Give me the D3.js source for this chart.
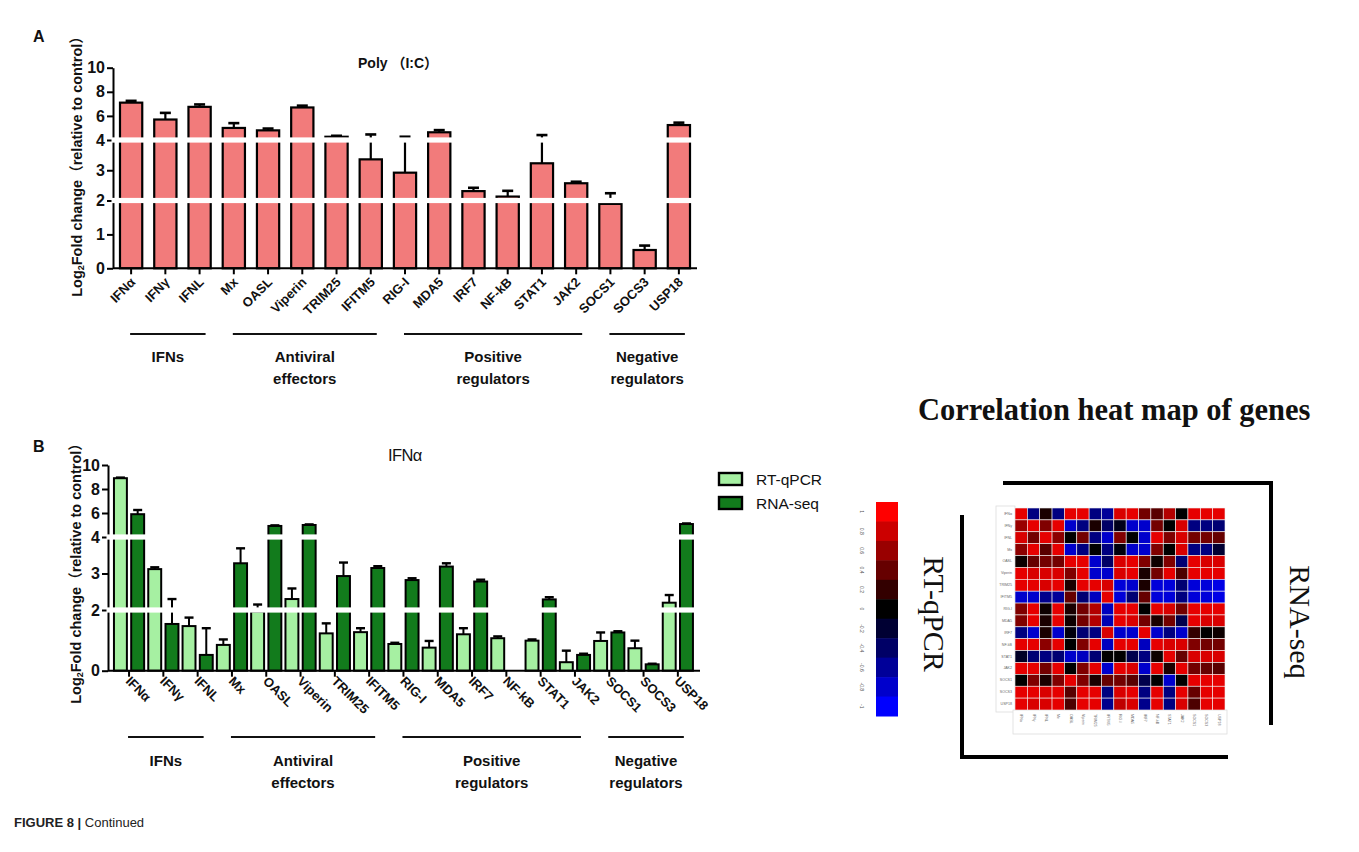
<!DOCTYPE html>
<html>
<head>
<meta charset="utf-8">
<script src="https://cdn.jsdelivr.net/npm/d3@7"></script>
<style>
  body { margin: 0; background: #fff; }
  svg { display: block; }
</style>
</head>
<body>
<svg id="fig" width="1359" height="852"></svg>
<script>
// ---- data ----
const genes = ["IFNα", "IFNγ", "IFNL", "Mx", "OASL", "Viperin", "TRIM25", "IFITM5",
  "RIG-I", "MDA5", "IRF7", "NF-kB", "STAT1", "JAK2", "SOCS1", "SOCS3", "USP18"];

const groupNames = [["IFNs"], ["Antiviral", "effectors"], ["Positive", "regulators"], ["Negative", "regulators"]];
const groupFirst = ["IFNα", "Mx", "RIG-I", "SOCS1"];
const groupLast = ["IFNL", "IFITM5", "JAK2", "USP18"];

// Panel A: Poly (I:C), log2 fold change and SEM
const polyIC = [7.1, 5.7, 6.75, 5.0, 4.8, 6.7, 4.27, 3.36, 2.92, 4.64, 2.31, 2.13, 3.23, 2.57, 1.9, 0.54, 5.24];
const polyICErr = [0.15, 0.55, 0.2, 0.4, 0.15, 0.15, 0.08, 1.1, 1.35, 0.18, 0.11, 0.19, 1.18, 0.05, 0.34, 0.13, 0.2];

// Panel B: IFNα, RT-qPCR vs RNA-seq
const rtqpcr = [8.9, 3.12, 1.47, 0.85, 1.95, 2.3, 1.23, 1.27, 0.88, 0.76, 1.2, 1.07, 0.99, 0.28, 0.98, 0.74, 2.2];
const rtqpcrErr = [0.05, 0.05, 0.28, 0.18, 0.2, 0.29, 0.33, 0.13, 0.04, 0.22, 0.2, 0.06, 0.04, 0.38, 0.28, 0.25, 0.21];
const rnaseq = [5.9, 1.54, 0.52, 3.28, 4.92, 5.0, 2.93, 3.15, 2.82, 3.19, 2.78, 0, 2.29, 0.52, 1.26, 0.21, 5.08];
const rnaseqErr = [0.35, 0.76, 0.88, 0.41, 0.05, 0.05, 0.37, 0.05, 0.05, 0.09, 0.05, 0, 0.06, 0.04, 0.04, 0.02, 0.05];

const seriesNames = ["RT-qPCR", "RNA-seq"];
const yTicksA = [0, 1, 2, 3, 4, 6, 8, 10];
const yTicksB = [0, 2, 3, 4, 6, 8, 10];
const yBreaks = [2, 4];

// Correlation matrix (rows: RT-qPCR genes, columns: RNA-seq genes)
const corrGenes = ["IFNα", "IFNγ", "IFNL", "Mx", "OASL", "Viperin", "TRIM25", "IFITM5",
  "RIG-I", "MDA5", "IRF7", "NF-kB", "STAT1", "JAK2", "SOCS1", "SOCS3", "USP18"];
const corrMatrix = [
  [0.9, -0.5, 0.1, -0.5, 0.9, 0.9, -0.5, -0.6, 0.85, 0.9, 0.45, 0.35, 0.7, 0.0, 0.9, 0.9, 0.9],
  [0.6, 0.9, 0.5, 0.9, -0.8, -0.5, 0.1, -0.4, -0.1, -0.8, -0.8, 0.45, 0.0, 0.85, -0.5, -0.5, -0.45],
  [0.85, 0.45, 0.9, 0.55, 0.0, 0.45, -0.5, -0.8, 0.5, 0.0, -0.8, 0.9, 0.5, 0.85, 0.45, 0.45, 0.4],
  [0.55, 0.9, 0.35, 0.9, -0.8, -0.5, 0.0, -0.5, -0.05, -0.8, -0.8, 0.5, 0.0, 0.85, -0.5, -0.5, -0.2],
  [0.05, 0.4, 0.45, 0.45, 0.9, 0.9, -0.8, -0.4, 0.85, 0.9, 0.5, 0.05, 0.5, -0.45, 0.9, 0.85, 0.85],
  [0.9, 0.85, 0.85, 0.85, 0.5, 0.9, -0.8, -0.8, 0.85, 0.9, 0.1, 0.45, 0.9, 0.3, 0.9, 0.9, 0.9],
  [0.9, 0.9, 0.85, 0.9, 0.1, 0.9, 0.9, 0.85, -0.85, -0.8, 0.1, -0.85, -0.85, -0.45, -0.85, -0.85, -0.9],
  [-0.8, -0.8, -0.55, -0.6, 0.4, -0.45, -0.75, 0.9, -0.85, -0.45, 0.4, -0.85, -0.85, -0.5, -0.85, -0.85, -0.9],
  [0.5, 0.9, 0.05, 0.9, 0.1, 0.45, 0.7, -0.75, 0.9, 0.9, 0.0, 0.9, 0.85, 0.45, 0.9, 0.9, 0.9],
  [0.5, 0.9, 0.1, 0.9, 0.05, 0.45, 0.7, -0.7, 0.9, 0.85, 0.45, 0.1, 0.45, -0.3, 0.9, 0.85, 0.85],
  [-0.5, -0.8, 0.1, -0.8, -0.05, -0.45, -0.5, 0.85, -0.8, -0.8, 0.9, -0.8, -0.5, -0.8, 0.2, 0.0, 0.05],
  [0.9, 0.9, 0.55, 0.9, 0.0, 0.5, 0.9, -0.75, 0.9, 0.9, -0.75, 0.9, 0.85, 0.85, 0.5, 0.45, 0.45],
  [-0.15, -0.45, -0.5, -0.45, -0.8, -0.75, -0.45, 0.0, 0.0, -0.3, -0.5, 0.05, 0.9, 0.4, 0.85, 0.85, 0.85],
  [0.9, 0.9, 0.45, 0.9, 0.0, 0.5, 0.9, -0.8, 0.9, 0.85, -0.8, 0.9, 0.1, 0.9, 0.45, 0.4, 0.35],
  [0.0, 0.5, 0.1, 0.5, 0.9, 0.5, 0.1, 0.4, 0.45, 0.35, -0.3, 0.0, -0.8, 0.0, 0.9, 0.9, 0.9],
  [0.9, 0.9, 0.85, 0.9, 0.35, 0.9, 0.9, -0.5, 0.85, 0.9, -0.5, 0.9, -0.5, 0.9, 0.4, 0.9, 0.9],
  [0.9, 0.85, 0.85, 0.9, 0.3, 0.9, 0.9, -0.55, 0.75, 0.85, -0.55, 0.9, -0.5, 0.85, 0.3, 0.9, 0.9]
];
const colorbarTicks = [1, 0.8, 0.6, 0.4, 0.2, 0, -0.2, -0.4, -0.6, -0.8, -1];

// ---- drawing ----
const SANS = "Arial, 'Liberation Sans', 'Noto Sans CJK SC', sans-serif";
const SERIF = "'Times New Roman', 'Liberation Serif', serif";
const svg = d3.select("#fig");

function yAxisTitle(g, cx, cy) {
  const t = g.append("text")
    .attr("transform", `translate(${cx},${cy}) rotate(-90)`)
    .attr("text-anchor", "middle").attr("dominant-baseline", "central")
    .attr("font-family", SANS).attr("font-weight", "bold").attr("font-size", 14.5).attr("fill", "#111");
  t.append("tspan").text("Log");
  t.append("tspan").attr("font-size", 9).attr("dy", 3.5).text("2");
  t.append("tspan").attr("dy", -3.5).text("Fold change（relative to control）");
}

function drawLeftAxis(g, y, ticks, axisX) {
  const ax = g.append("g").attr("transform", `translate(${axisX},0)`)
    .call(d3.axisLeft(y).tickValues(ticks).tickSize(6).tickSizeOuter(0).tickPadding(2));
  ax.attr("font-size", null);
  ax.select(".domain").attr("stroke", "#000").attr("stroke-width", 2);
  ax.selectAll(".tick line").attr("stroke", "#000").attr("stroke-width", 2);
  ax.selectAll(".tick text").attr("font-family", SANS).attr("font-weight", "bold")
    .style("font-size", "16px").attr("fill", "#111");
  return ax;
}

function drawBreakBands(g, y, x0, x1) {
  g.selectAll(null).data(yBreaks).join("rect")
    .attr("x", x0).attr("width", x1 - x0)
    .attr("y", d => y(d) - 2.6).attr("height", 5.2)
    .attr("fill", "#fff");
}

function drawBottomAxis(g, x, yBase, axisX, xEnd) {
  g.append("line").attr("x1", axisX).attr("x2", xEnd).attr("y1", yBase).attr("y2", yBase)
    .attr("stroke", "#000").attr("stroke-width", 2);
  g.selectAll(null).data(x.domain()).join("line")
    .attr("x1", d => x(d) + x.bandwidth() / 2).attr("x2", d => x(d) + x.bandwidth() / 2)
    .attr("y1", yBase).attr("y2", yBase + 6)
    .attr("stroke", "#000").attr("stroke-width", 2);
}

function drawGroups(g, x, lineY, textY) {
  const cx = d => x(d) + x.bandwidth() / 2;
  groupNames.forEach((lines, i) => {
    const a = cx(groupFirst[i]) - 1, b = cx(groupLast[i]) + 6;
    g.append("line").attr("x1", a).attr("x2", b).attr("y1", lineY).attr("y2", lineY)
      .attr("stroke", "#111").attr("stroke-width", 2.2);
    const t = g.append("text").attr("x", (a + b) / 2).attr("y", textY)
      .attr("text-anchor", "middle").attr("font-family", SANS).attr("font-weight", "bold")
      .attr("font-size", 15).attr("fill", "#111");
    lines.forEach((s, k) => t.append("tspan").attr("x", (a + b) / 2).attr("dy", k ? 21.5 : 0).text(s));
  });
}

// ---------- Panel A ----------
(function panelA() {
  const g = svg.append("g");
  const axisX = 113, xEnd = 697;
  const x = d3.scaleBand().domain(genes).range([114, 696]).paddingInner(0.35).paddingOuter(0.175);
  const y = d3.scaleLinear().domain([0, 2, 4, 10]).range([268.3, 200.5, 140, 67.7]);

  g.append("text").attr("x", 33).attr("y", 42).attr("font-family", SANS).attr("font-weight", "bold")
    .attr("font-size", 16).attr("fill", "#111").text("A");
  g.append("text").attr("x", 358).attr("y", 68).attr("font-family", SANS).attr("font-weight", "bold")
    .attr("font-size", 14).attr("fill", "#111").text("Poly （I:C）");
  yAxisTitle(g, 77, 163);

  const data = genes.map((k, i) => ({ k, v: polyIC[i], e: polyICErr[i] }));
  g.selectAll(null).data(data).join("rect")
    .attr("x", d => x(d.k)).attr("width", x.bandwidth())
    .attr("y", d => y(d.v)).attr("height", d => y(0) - y(d.v))
    .attr("fill", "#f27b7b").attr("stroke", "#000").attr("stroke-width", 2.2);
  const eb = g.selectAll(null).data(data).join("g")
    .attr("transform", d => `translate(${x(d.k) + x.bandwidth() / 2},0)`);
  eb.append("line").attr("y1", d => y(d.v)).attr("y2", d => y(d.v + d.e))
    .attr("stroke", "#000").attr("stroke-width", 2.2);
  eb.append("line").attr("x1", -5.5).attr("x2", 5.5).attr("y1", d => y(d.v + d.e)).attr("y2", d => y(d.v + d.e))
    .attr("stroke", "#000").attr("stroke-width", 2.6);

  drawLeftAxis(g, y, yTicksA, axisX);
  drawBreakBands(g, y, axisX - 1.5, xEnd + 2);
  drawBottomAxis(g, x, y(0), axisX, xEnd);

  g.selectAll(null).data(genes).join("text")
    .attr("transform", d => `translate(${x(d) + x.bandwidth() / 2 + 5},${283}) rotate(-45)`)
    .attr("text-anchor", "end").attr("font-family", SANS).attr("font-weight", "bold")
    .attr("font-size", 13).attr("fill", "#111").text(d => d);

  drawGroups(g, x, 334, 362);
})();

// ---------- Panel B ----------
(function panelB() {
  const g = svg.append("g");
  const axisX = 108, xEnd = 700;
  const x = d3.scaleBand().domain(genes).range([111.9, 695]).paddingInner(0.12).paddingOuter(0.06);
  const x1 = d3.scaleBand().domain(seriesNames).range([0, x.bandwidth()]).paddingInner(0.25);
  const y = d3.scaleLinear().domain([0, 2, 4, 10]).range([670.7, 610, 537, 465]);
  const fills = d3.scaleOrdinal().domain(seriesNames).range(["#a6f0a2", "#127b1c"]);

  g.append("text").attr("x", 33).attr("y", 452).attr("font-family", SANS).attr("font-weight", "bold")
    .attr("font-size", 16).attr("fill", "#111").text("B");
  g.append("text").attr("x", 388).attr("y", 461).attr("font-family", SANS)
    .attr("font-size", 16.5).attr("letter-spacing", -0.6).attr("fill", "#111").text("IFNα");
  yAxisTitle(g, 76, 570);

  const data = [];
  genes.forEach((k, i) => {
    data.push({ k, s: seriesNames[0], v: rtqpcr[i], e: rtqpcrErr[i] });
    data.push({ k, s: seriesNames[1], v: rnaseq[i], e: rnaseqErr[i] });
  });
  g.selectAll(null).data(data).join("rect")
    .attr("x", d => x(d.k) + x1(d.s)).attr("width", x1.bandwidth())
    .attr("y", d => y(d.v)).attr("height", d => y(0) - y(d.v))
    .attr("fill", d => fills(d.s)).attr("stroke", "#000").attr("stroke-width", 2);
  const eb = g.selectAll(null).data(data.filter(d => d.e > 0)).join("g")
    .attr("transform", d => `translate(${x(d.k) + x1(d.s) + x1.bandwidth() / 2},0)`);
  eb.append("line").attr("y1", d => y(d.v)).attr("y2", d => y(d.v + d.e))
    .attr("stroke", "#000").attr("stroke-width", 2);
  eb.append("line").attr("x1", -4.5).attr("x2", 4.5).attr("y1", d => y(d.v + d.e)).attr("y2", d => y(d.v + d.e))
    .attr("stroke", "#000").attr("stroke-width", 2.4);

  drawLeftAxis(g, y, yTicksB, axisX);
  drawBreakBands(g, y, axisX - 1.5, xEnd + 2);
  drawBottomAxis(g, x, y(0), axisX, xEnd);

  g.selectAll(null).data(genes).join("text")
    .attr("transform", d => `translate(${x(d) + x.bandwidth() / 2 - 4},${682}) rotate(45)`)
    .attr("text-anchor", "start").attr("font-family", SANS).attr("font-weight", "bold")
    .attr("font-size", 13).attr("fill", "#111").text(d => d);

  drawGroups(g, x, 737, 766);

  // legend
  const lg = g.append("g").attr("transform", "translate(719,473)");
  seriesNames.forEach((s, i) => {
    lg.append("rect").attr("x", 0).attr("y", i * 24).attr("width", 23).attr("height", 12)
      .attr("fill", fills(s)).attr("stroke", "#000").attr("stroke-width", 2.4);
    lg.append("text").attr("x", 37).attr("y", i * 24 + 6).attr("dominant-baseline", "central")
      .attr("font-family", SANS).attr("font-size", 15.5).attr("fill", "#111").text(s);
  });
})();

// ---------- Correlation heat map ----------
(function heatmap() {
  const g = svg.append("g");
  const color = d3.scaleLinear().domain([-1, 0, 1]).range(["#0000ff", "#000000", "#ff0000"]);

  g.append("text").attr("x", 918).attr("y", 420).attr("font-family", SERIF).attr("font-weight", "bold")
    .attr("font-size", 30.5).attr("fill", "#111").text("Correlation heat map of genes");

  // colour bar
  const cb = d3.scaleBand().domain(colorbarTicks).range([502, 716]);
  g.selectAll(null).data(colorbarTicks).join("rect")
    .attr("x", 876).attr("width", 22).attr("y", d => cb(d)).attr("height", cb.bandwidth() + 0.5)
    .attr("fill", d => color(d));
  g.selectAll(null).data(colorbarTicks).join("text")
    .attr("transform", d => `translate(862,${cb(d) + cb.bandwidth() / 2}) rotate(90)`)
    .attr("text-anchor", "middle").attr("dominant-baseline", "central")
    .attr("font-family", SANS).attr("font-size", 5).attr("fill", "#555").text(d => d);

  g.append("text").attr("transform", "translate(934,614) rotate(90)")
    .attr("text-anchor", "middle").attr("dominant-baseline", "central")
    .attr("font-family", SERIF).attr("font-size", 30).attr("fill", "#111").text("RT-qPCR");
  g.append("text").attr("transform", "translate(1300,622) rotate(90)")
    .attr("text-anchor", "middle").attr("dominant-baseline", "central")
    .attr("font-family", SERIF).attr("font-size", 30).attr("fill", "#111").text("RNA-seq");

  // brackets
  g.append("path").attr("d", "M962,515V757H1228").attr("fill", "none").attr("stroke", "#000").attr("stroke-width", 4);
  g.append("path").attr("d", "M1003,483H1271V725").attr("fill", "none").attr("stroke", "#000").attr("stroke-width", 4);

  const xs = d3.scaleBand().domain(corrGenes).range([1015, 1225]);
  const ys = d3.scaleBand().domain(corrGenes).range([508, 710]);

  // label frames
  g.append("rect").attr("x", 996).attr("y", 506).attr("width", 19).attr("height", 206)
    .attr("fill", "#fff").attr("stroke", "#ddd").attr("stroke-width", 0.8);
  g.append("rect").attr("x", 1013).attr("y", 710).attr("width", 214).attr("height", 24)
    .attr("fill", "#fff").attr("stroke", "#ddd").attr("stroke-width", 0.8);

  const cells = [];
  corrMatrix.forEach((row, i) => row.forEach((v, j) => cells.push({ r: corrGenes[i], c: corrGenes[j], v })));
  g.selectAll(null).data(cells).join("rect")
    .attr("x", d => xs(d.c)).attr("y", d => ys(d.r))
    .attr("width", xs.bandwidth()).attr("height", ys.bandwidth())
    .attr("fill", d => color(d.v)).attr("stroke", "#f2f2f2").attr("stroke-width", 0.6);

  g.selectAll(null).data(corrGenes).join("text")
    .attr("x", 1012).attr("y", d => ys(d) + ys.bandwidth() / 2)
    .attr("text-anchor", "end").attr("dominant-baseline", "central")
    .attr("font-family", SANS).attr("font-size", 3.6).attr("fill", "#666").text(d => d);
  g.selectAll(null).data(corrGenes).join("text")
    .attr("transform", d => `translate(${xs(d) + xs.bandwidth() / 2},714) rotate(90)`)
    .attr("text-anchor", "start").attr("dominant-baseline", "central")
    .attr("font-family", SANS).attr("font-size", 3.6).attr("fill", "#666").text(d => d);
})();

// ---------- caption ----------
const cap = svg.append("text").attr("x", 14).attr("y", 827)
  .attr("font-family", SANS).attr("font-size", 13).attr("fill", "#222");
cap.append("tspan").attr("font-weight", "bold").text("FIGURE 8 | ");
cap.append("tspan").text("Continued");
</script>
</body>
</html>
